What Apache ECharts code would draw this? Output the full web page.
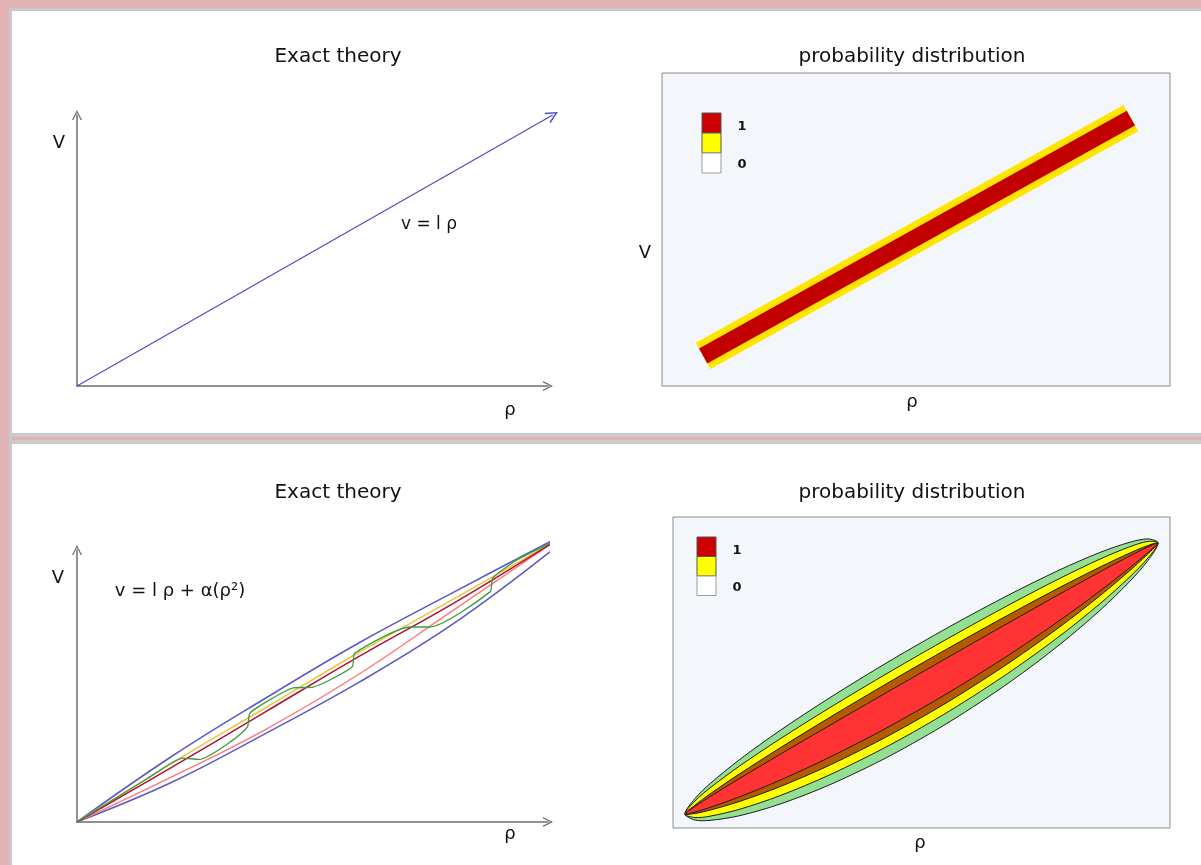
<!DOCTYPE html>
<html>
<head>
<meta charset="utf-8">
<title>Exact theory / probability distribution</title>
<script src="https://cdn.jsdelivr.net/npm/echarts@6/dist/echarts.min.js"></script>
<style>
  html, body { margin: 0; padding: 0; background: #ffffff; }
  #chart { width: 1201px; height: 865px; }
</style>
</head>
<body>
<div id="chart"></div>
<script>
// top-left : v = l rho (straight arrow)
const linearLine = [[0, 0], [1.01, 1.0]];

// top-right : centre line of the probability band
const bandLine = [[0.081, 0.096], [0.923, 0.856]];

// bottom-left : bundle of curves v = l rho + O(rho^2)
const upperBlue = [[0, 0], [0.2, 0.24], [0.4, 0.455], [0.6, 0.66], [0.8, 0.845], [1.04, 1.063]];
const yellowCurve = [[0, 0], [0.2, 0.215], [0.4, 0.42], [0.6, 0.625], [0.8, 0.82], [1.019, 1.037]];
const darkRedCurve = [[0, 0], [0.2, 0.2], [0.4, 0.405], [0.6, 0.61], [0.8, 0.805], [1.019, 1.037]];
const pinkCurve = [[0, 0], [0.2, 0.165], [0.4, 0.34], [0.6, 0.545], [0.8, 0.78], [1.019, 1.037]];
const lowerBlue = [[0, 0], [0.2, 0.145], [0.4, 0.325], [0.6, 0.515], [0.8, 0.73], [1.004, 0.993]];
const greenCurve = [[0, 0], [0.15, 0.16], [0.225, 0.235], [0.26, 0.23], [0.33, 0.30], [0.362, 0.35],
  [0.367, 0.40], [0.416, 0.456], [0.459, 0.493], [0.501, 0.496], [0.584, 0.570], [0.590, 0.621],
  [0.707, 0.717], [0.749, 0.717], [0.877, 0.846], [0.883, 0.897], [0.934, 0.963], [1.019, 1.037]];

// bottom-right : nested lens shaped contours (upper / lower edge at each rho)
const lensRho = [0.0241, 0.0443, 0.0744, 0.1348, 0.2153, 0.3159, 0.4366, 0.5573, 0.6781, 0.7787, 0.8592, 0.9195, 0.9557, 0.9759];
const greenTop = [0.0450, 0.0948, 0.1423, 0.2210, 0.3135, 0.4193, 0.5375, 0.6482, 0.7516, 0.8305, 0.8861, 0.9190, 0.9295, 0.9165];
const greenBottom = [0.0450, 0.0256, 0.0245, 0.0398, 0.0769, 0.1393, 0.2321, 0.3422, 0.4696, 0.5905, 0.6999, 0.7936, 0.8603, 0.9165];
const yellowTop = [0.0450, 0.0868, 0.1288, 0.2002, 0.2864, 0.3872, 0.5025, 0.6131, 0.7193, 0.8030, 0.8647, 0.9046, 0.9215, 0.9165];
const yellowBottom = [0.0450, 0.0336, 0.0380, 0.0606, 0.1040, 0.1714, 0.2671, 0.3773, 0.5019, 0.6180, 0.7213, 0.8080, 0.8683, 0.9165];
const brownTop = [0.0450, 0.0736, 0.1094, 0.1750, 0.2575, 0.3562, 0.4705, 0.5811, 0.6881, 0.7739, 0.8391, 0.8845, 0.9083, 0.9165];
const brownBottom = [0.0450, 0.0468, 0.0574, 0.0858, 0.1329, 0.2024, 0.2991, 0.4093, 0.5331, 0.6471, 0.7469, 0.8281, 0.8815, 0.9165];
const redTop = [0.0450, 0.0691, 0.1007, 0.1601, 0.2367, 0.3305, 0.4419, 0.5524, 0.6623, 0.7528, 0.8238, 0.8751, 0.9038, 0.9165];
const redBottom = [0.0450, 0.0513, 0.0661, 0.1007, 0.1537, 0.2281, 0.3277, 0.4380, 0.5589, 0.6682, 0.7622, 0.8375, 0.8860, 0.9165];

// legend keys
const legendLabels = ['1', '0'];

const chart = echarts.init(document.getElementById('chart'));

const pink = '#e0b2b4';
const frameGray = '#cacaca';
const axisGray = '#6e6e6e';
const font = 'DejaVu Sans';
// open arrow head, pointing up like the built-in 'arrow'
const chevron = 'path://M5,0 L10,10 L8.6,10 L5,2.6 L1.4,10 L0,10 Z';

const lensLayers = [
  { top: greenTop, bottom: greenBottom, color: '#93e093' },
  { top: yellowTop, bottom: yellowBottom, color: '#ffff00' },
  { top: brownTop, bottom: brownBottom, color: '#b45a00' },
  { top: redTop, bottom: redBottom, color: '#ff3333' }
];

function renderLens(params, api) {
  const layer = lensLayers[params.dataIndex];
  const pts = [];
  lensRho.forEach((r, i) => pts.push(api.coord([r, layer.top[i]])));
  for (let i = lensRho.length - 2; i > 0; i--) {
    pts.push(api.coord([lensRho[i], layer.bottom[i]]));
  }
  return {
    type: 'polygon',
    shape: { points: pts, smooth: 0.3 },
    style: { fill: layer.color, stroke: '#1e1e1e', lineWidth: 1 }
  };
}

function arrowAxis(idx) {
  return {
    type: 'value', gridIndex: idx, min: 0, max: 1,
    axisLine: {
      show: true, onZero: false,
      symbol: ['none', chevron], symbolSize: [10, 13],
      lineStyle: { color: axisGray, width: 1.5 }
    },
    axisTick: { show: false }, axisLabel: { show: false }, splitLine: { show: false }
  };
}

function boxAxis(idx) {
  return {
    type: 'value', gridIndex: idx, min: 0, max: 1,
    axisLine: { show: false }, axisTick: { show: false },
    axisLabel: { show: false }, splitLine: { show: false }
  };
}

function legendKeys(x, y, h) {
  const fills = ['#cc0000', '#ffff00', '#ffffff'];
  const items = fills.map((c, i) => ({
    type: 'rect', shape: { x: x, y: y + i * h, width: 19, height: h },
    style: { fill: c, stroke: i === 2 ? '#9a9a9a' : '#555', lineWidth: 1 }, z: 100
  }));
  items.push({ type: 'text', x: x + 40, y: y + h * 0.7, z: 100,
    style: { text: legendLabels[0], font: 'bold 13px ' + font, fill: '#111', align: 'center', verticalAlign: 'middle' } });
  items.push({ type: 'text', x: x + 40, y: y + h * 2.6, z: 100,
    style: { text: legendLabels[1], font: 'bold 13px ' + font, fill: '#111', align: 'center', verticalAlign: 'middle' } });
  return items;
}

function label(text, x, y, size) {
  return { type: 'text', x: x, y: y, z: 100,
    style: { text: text, font: (size || 18) + 'px ' + font, fill: '#111', align: 'center', verticalAlign: 'middle' } };
}

function curve(data, color, width) {
  return {
    type: 'line', xAxisIndex: 2, yAxisIndex: 2, data: data,
    smooth: 0.4, showSymbol: false, clip: false, silent: true,
    lineStyle: { color: color, width: width }
  };
}

const option = {
  backgroundColor: '#ffffff',
  animation: false,
  graphic: [
    // page frame
    { type: 'rect', shape: { x: 0, y: 0, width: 1201, height: 8 }, style: { fill: pink } },
    { type: 'rect', shape: { x: 9, y: 8, width: 1192, height: 3 }, style: { fill: frameGray } },
    { type: 'rect', shape: { x: 9, y: 433, width: 1192, height: 11 }, style: { fill: frameGray } },
    { type: 'rect', shape: { x: 9, y: 437, width: 1192, height: 3 }, style: { fill: pink } },
    { type: 'rect', shape: { x: 9, y: 8, width: 3, height: 857 }, style: { fill: frameGray } },
    { type: 'rect', shape: { x: 0, y: 0, width: 9, height: 865 }, style: { fill: pink } },
    // titles
    label('Exact theory', 338, 57, 20),
    label('probability distribution', 912, 57, 20),
    label('Exact theory', 338, 493, 20),
    label('probability distribution', 912, 493, 20),
    // axis names and formulas
    label('V', 59, 143),
    label('ρ', 510, 410),
    label('v = l ρ', 429, 225, 17),
    label('V', 645, 253),
    label('ρ', 912, 402),
    label('V', 58, 578),
    label('ρ', 510, 834),
    label('v = l ρ + α(ρ²)', 180, 591, 18),
    label('ρ', 920, 843)
  ].concat(legendKeys(702, 113, 20), legendKeys(697, 537, 19.5)),
  grid: [
    { left: 77, top: 115, width: 471, height: 271 },
    { left: 662, top: 73, width: 508, height: 313, show: true,
      backgroundColor: '#f3f7fb', borderColor: '#8a8a8a', borderWidth: 1 },
    { left: 77, top: 550, width: 471, height: 272 },
    { left: 673, top: 517, width: 497, height: 311, show: true,
      backgroundColor: '#f3f7fb', borderColor: '#8a8a8a', borderWidth: 1 }
  ],
  xAxis: [arrowAxis(0), boxAxis(1), arrowAxis(2), boxAxis(3)],
  yAxis: [arrowAxis(0), boxAxis(1), arrowAxis(2), boxAxis(3)],
  series: [
    {
      type: 'lines', coordinateSystem: 'cartesian2d', xAxisIndex: 0, yAxisIndex: 0,
      clip: false, silent: true,
      symbol: ['none', chevron], symbolSize: [9, 12],
      lineStyle: { color: '#4d4dc4', width: 1.2, opacity: 1 },
      data: [{ coords: linearLine }]
    },
    {
      type: 'line', xAxisIndex: 1, yAxisIndex: 1, data: bandLine,
      showSymbol: false, silent: true,
      lineStyle: { color: '#ffe500', width: 30, cap: 'butt' }
    },
    {
      type: 'line', xAxisIndex: 1, yAxisIndex: 1, data: bandLine,
      showSymbol: false, silent: true,
      lineStyle: { color: '#c30000', width: 17, cap: 'butt' }
    },
    curve(upperBlue, '#5b5bc6', 1.6),
    curve(lowerBlue, '#5b5bc6', 1.6),
    curve(pinkCurve, '#ff7878', 1.4),
    curve(yellowCurve, '#e6c83c', 1.5),
    curve(darkRedCurve, '#b01038', 1.5),
    {
      type: 'line', xAxisIndex: 2, yAxisIndex: 2, data: greenCurve,
      smooth: 0.2, showSymbol: false, clip: false, silent: true,
      lineStyle: { color: '#3c9c3c', width: 1.3 }
    },
    {
      type: 'custom', xAxisIndex: 3, yAxisIndex: 3, silent: true,
      data: lensLayers.map((l, i) => [i, 0]),
      renderItem: renderLens
    }
  ]
};

chart.setOption(option);
window.addEventListener('resize', () => chart.resize());
</script>
</body>
</html>
